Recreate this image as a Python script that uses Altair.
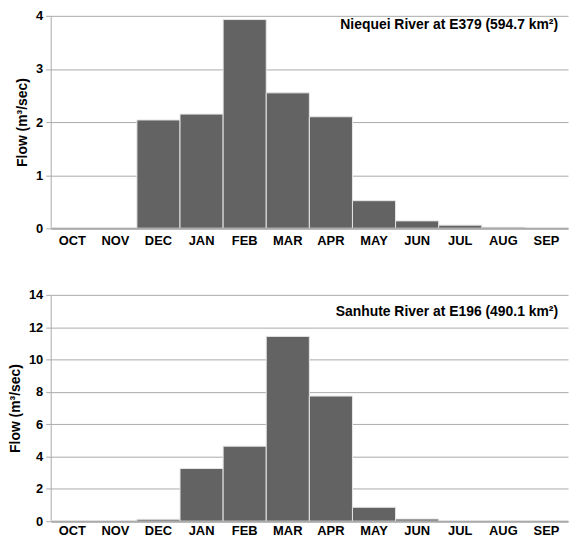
import altair as alt
import pandas as pd

months = ["OCT", "NOV", "DEC", "JAN", "FEB", "MAR", "APR", "MAY", "JUN", "JUL", "AUG", "SEP"]
niequei_flow = [0.0, 0.0, 2.04, 2.15, 3.93, 2.55, 2.10, 0.52, 0.14, 0.06, 0.02, 0.0]
sanhute_flow = [0.0, 0.0, 0.12, 3.26, 4.64, 11.43, 7.74, 0.86, 0.14, 0.0, 0.0, 0.0]

niequei_label = "Niequei River at E379 (594.7 km²)"
sanhute_label = "Sanhute River at E196 (490.1 km²)"
niequei_ticks = [0, 0.5, 1, 1.5, 2, 2.5, 3, 3.5, 4]
sanhute_ticks = [0, 2, 4, 6, 8, 10, 12, 14]

FONT = "Liberation Sans"
W = 521


def panel(values, label, ymax, ticks, h, title_y, xpad):
    df = pd.DataFrame({"month": months, "flow": values})
    bars = alt.Chart(df).mark_bar(color="#636363", stroke="#e6e6e6", strokeWidth=1).encode(
        x=alt.X("month:N", sort=months,
                scale=alt.Scale(paddingInner=0, paddingOuter=0),
                axis=alt.Axis(title=None, labelAngle=0, ticks=False, domainColor="#aaaaaa",
                              domainWidth=2, labelPadding=xpad, zindex=1)),
        y=alt.Y("flow:Q", scale=alt.Scale(domain=[0, ymax], nice=False),
                axis=alt.Axis(values=ticks, format="d",
                              labelExpr="datum.value % 1 == 0 ? datum.label : ''",
                              title="Flow (m³/sec)", gridColor="#aaaaaa", domainColor="#aaaaaa",
                              tickColor="#aaaaaa", tickSize=5, labelPadding=3, titlePadding=6)),
    )
    text = alt.Chart(pd.DataFrame({"t": [label]})).mark_text(
        align="right", baseline="middle", fontWeight="bold", fontSize=14, font=FONT, color="black"
    ).encode(text="t:N", x=alt.value(W - 10), y=alt.value(title_y))
    return alt.layer(bars, text).properties(width=W, height=h)


top = panel(niequei_flow, niequei_label, 4, niequei_ticks, 214, 9, 6)
bottom = panel(sanhute_flow, sanhute_label, 14, sanhute_ticks, 228, 17, 3)

chart = alt.vconcat(top, bottom, spacing=42).properties(
    padding={"left": 0, "top": 0, "right": 0, "bottom": 0}
).configure_view(stroke=None).configure_axis(
    labelFont=FONT, labelFontWeight="bold", labelFontSize=13, labelColor="black",
    titleFont=FONT, titleFontWeight="bold", titleFontSize=14, titleColor="black",
)

chart.save("out.html", embed_options={"renderer": "svg", "actions": False})
